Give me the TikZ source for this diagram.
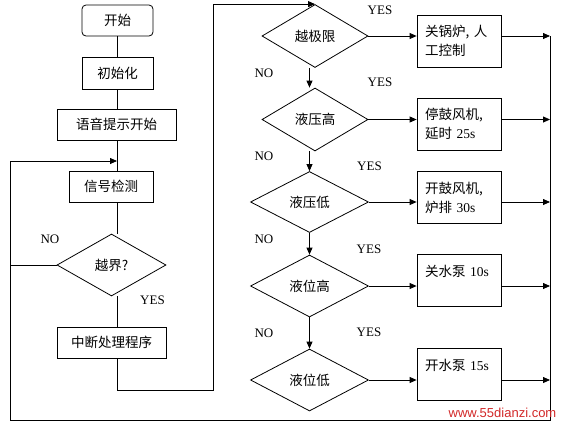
\documentclass[tikz,border=0pt]{standalone}
\usepackage{fontspec}
\setmainfont{Noto Sans CJK SC}
\newfontfamily\lat{Liberation Serif}
\newfontfamily\wm{Liberation Sans}
\usetikzlibrary{shapes.geometric,arrows.meta,positioning}
\definecolor{wmred}{RGB}{210,40,40}

\begin{document}
\begin{tikzpicture}[x=1pt, y=-1pt,
  font=\fontsize{13.5}{19}\selectfont,
  block/.style={draw, minimum height=31pt, inner sep=0pt, line width=0.8pt},
  cond/.style={draw, diamond, inner sep=0pt, line width=0.8pt},
  act/.style={draw, minimum width=84pt, minimum height=52pt, text width=68pt, align=left, inner sep=0pt, line width=0.8pt},
  ann/.style={inner sep=1pt, font=\lat\fontsize{13}{15}\selectfont},
  arr/.style={-{Triangle[length=7pt,width=6pt]}, line width=0.8pt},
  line/.style={line width=0.8pt}
]
\useasboundingbox (0,0) rectangle (563,426);

% main loop
\node[block, rounded corners=4pt, minimum width=71pt] (begin) at (117.5,20.5) {开始};
\node[block, minimum width=71pt, minimum height=32pt] (init) at (117.5,73) {初始化};
\node[block, minimum width=119pt] (voice) at (116.5,124.5) {语音提示开始};
\node[block, minimum width=84pt] (sig) at (111,186.5) {信号检测};
\node[cond, minimum width=109pt, minimum height=62pt] (cross) at (111.5,265) {越界?};
\node[block, minimum width=109pt] (intr) at (111.5,342.5) {中断处理程序};

\coordinate (join) at (117,161);
\coordinate (lft) at (10,161);
\coordinate (lb) at (10,420);
\coordinate (rb) at (550,420);
\coordinate (rt) at (550,36);
\coordinate (turn) at (213,390);

% checks
\node[cond, minimum width=106pt, minimum height=63pt] (lim) at (315,36) {越极限};
\node[cond, minimum width=106pt, minimum height=63pt] (phigh) at (315,119.5) {液压高};
\node[cond, minimum width=118pt, minimum height=61pt] (plow) at (309.5,202) {液压低};
\node[cond, minimum width=118pt, minimum height=62pt] (lhigh) at (309.5,286) {液位高};
\node[cond, minimum width=118pt, minimum height=62pt] (llow) at (309.5,380) {液位低};

\node[act] (shut) at (459,41) {关锅炉, 人\\工控制};
\node[act] (fanoff) at (459,124) {停鼓风机,\\延时 {\lat 25s}};
\node[act] (fanon) at (459,197.5) {开鼓风机,\\炉排 {\lat 30s}};
\node[act] (pumpoff) at (459,280) {关水泵 {\lat 10s}\\~};
\node[act] (pumpon) at (459,374) {开水泵 {\lat 15s}\\~};

\draw[line] (begin) -- (init);
\draw[line] (init.south) -- (init.south |- voice.north);
\draw[line] (voice.south -| join) -- (sig.north -| join);
\draw[line] (sig.south -| join) -- (cross.north -| join);
\draw[line] (cross.south -| join) -- (intr.north -| join);
\draw[arr] (cross.west) -| (lft) -- (join);
\draw[arr] (intr.south -| join) |- (turn) |- (lim.north);

\draw[arr] (lim.south -| plow.north) -- (phigh.north -| plow.north);
\draw[arr] (phigh.south -| plow.north) -- (plow.north);
\draw[arr] (plow) -- (lhigh);
\draw[arr] (lhigh) -- (llow);

\foreach \d/\b in {lim/shut, phigh/fanoff, plow/fanon, lhigh/pumpoff, llow/pumpon} {
  \draw[arr] (\d.east) -- (\d.east -| \b.west);
  \draw[arr] (\b.east |- \d.east) -- (\d.east -| rt);
}
\draw[line] (rt) -- (rb) -- (lb) -- (lft);

\node[ann] (no0) at (50,239) {NO};
\node[ann] (yes0) at (152.5,300) {YES};
\node[ann] (yes1) at (380,10) {YES};
\node[ann] (yes2) at (380,82) {YES};
\node[ann] (yes3) at (369.5,166) {YES};
\node[ann] (yes4) at (369,249) {YES};
\node[ann] (yes5) at (369,332) {YES};
\node[ann] (no1) at (264,73) {NO};
\node[ann] (no2) at (264,156) {NO};
\node[ann] (no3) at (264,239) {NO};
\node[ann] (no4) at (264,333) {NO};

\node[text=wmred, font=\wm\fontsize{13}{15}\selectfont, inner sep=0pt] (mark) at (502.5,413) {www.55dianzi.com};
\end{tikzpicture}
\end{document}
